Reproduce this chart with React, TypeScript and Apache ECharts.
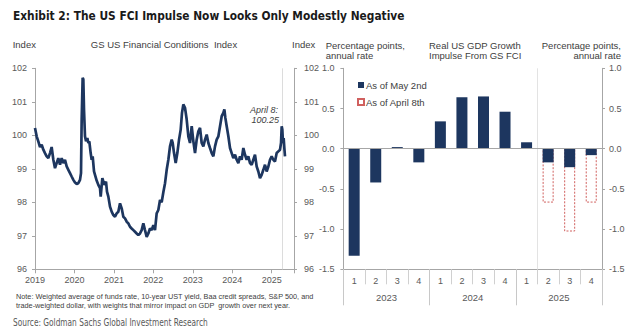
import React, { useEffect, useRef } from "react";
import * as echarts from "echarts";

// GS US Financial Conditions Index (decimal year, index level)
const fciDates: number[] = [
  2019.0, 2019.042, 2019.084, 2019.127, 2019.169, 2019.211, 2019.253, 2019.296, 2019.338, 2019.38,
  2019.422, 2019.465, 2019.507, 2019.549, 2019.591, 2019.634, 2019.676, 2019.718, 2019.76, 2019.803,
  2019.845, 2019.887, 2019.929, 2019.972, 2020.014, 2020.056, 2020.098, 2020.141, 2020.166, 2020.183,
  2020.208, 2020.225, 2020.242, 2020.267, 2020.293, 2020.327, 2020.352, 2020.377, 2020.411, 2020.436,
  2020.462, 2020.496, 2020.521, 2020.563, 2020.605, 2020.648, 2020.665, 2020.707, 2020.758, 2020.8,
  2020.825, 2020.859, 2020.901, 2020.943, 2020.986, 2021.028, 2021.07, 2021.112, 2021.155, 2021.197,
  2021.239, 2021.281, 2021.324, 2021.366, 2021.408, 2021.45, 2021.493, 2021.535, 2021.577, 2021.619,
  2021.662, 2021.704, 2021.746, 2021.788, 2021.831, 2021.873, 2021.915, 2021.957, 2022.0, 2022.042,
  2022.084, 2022.126, 2022.169, 2022.211, 2022.253, 2022.296, 2022.338, 2022.38, 2022.422, 2022.465,
  2022.49, 2022.524, 2022.566, 2022.608, 2022.651, 2022.693, 2022.726, 2022.76, 2022.803, 2022.845,
  2022.887, 2022.929, 2022.972, 2023.014, 2023.056, 2023.098, 2023.141, 2023.183, 2023.225, 2023.267,
  2023.31, 2023.352, 2023.394, 2023.436, 2023.479, 2023.521, 2023.563, 2023.605, 2023.648, 2023.69,
  2023.732, 2023.774, 2023.8, 2023.825, 2023.859, 2023.901, 2023.943, 2023.985, 2024.027, 2024.07,
  2024.112, 2024.154, 2024.196, 2024.238, 2024.281, 2024.323, 2024.365, 2024.407, 2024.45, 2024.492,
  2024.534, 2024.576, 2024.619, 2024.661, 2024.703, 2024.745, 2024.788, 2024.83, 2024.872, 2024.915,
  2024.957, 2024.999, 2025.041, 2025.083, 2025.126, 2025.168, 2025.21, 2025.236, 2025.253, 2025.269,
  2025.286, 2025.303, 2025.32, 2025.337,
];
const fciValues: number[] = [
  100.22, 99.97, 99.82, 99.65, 99.72, 99.57, 99.47, 99.37, 99.32, 99.47,
  99.65, 99.27, 99.02, 99.17, 99.32, 99.12, 99.32, 99.17, 99.27, 99.07,
  98.97, 98.87, 98.77, 98.67, 98.59, 98.55, 98.57, 98.67, 98.87, 100.47,
  101.72, 101.67, 100.77, 99.97, 99.82, 99.92, 99.77, 99.82, 99.47, 99.27,
  99.37, 98.92, 98.82, 98.65, 98.52, 98.42, 98.17, 98.72, 98.52, 98.62,
  98.32, 98.17, 97.87, 97.72, 97.62, 97.57, 97.67, 97.72, 97.97, 97.82,
  97.57, 97.52, 97.42, 97.37, 97.27, 97.22, 97.17, 97.12, 97.07, 97.02,
  97.07, 97.17, 97.37, 97.17, 96.97, 97.07, 97.22, 97.17, 97.32, 97.17,
  97.67, 97.77, 98.07, 98.0, 98.3, 98.57, 98.97, 99.27, 99.67, 99.87,
  99.77, 99.47, 99.17, 99.47, 99.87, 100.17, 100.67, 100.92, 100.82, 100.47,
  99.97, 99.77, 100.27, 99.82, 99.47, 99.87, 100.12, 100.22, 99.77, 99.67,
  99.87, 100.02, 99.77, 99.62, 99.47, 99.37, 99.67, 99.87, 99.97, 100.27,
  100.57, 100.67, 100.77, 100.52, 100.27, 99.97, 99.62, 99.47, 99.32, 99.42,
  99.27, 99.17, 99.37, 99.27, 99.62, 99.42, 99.27, 99.37, 99.17, 99.12,
  99.27, 99.42, 99.07, 98.92, 98.72, 98.82, 98.97, 99.12, 98.92, 99.07,
  99.27, 99.37, 99.27, 99.22, 99.47, 99.52, 99.57, 99.77, 100.27, 100.17,
  99.77, 99.92, 99.62, 99.37,
];
const fciYearTicks: number[] = [2019, 2020, 2021, 2022, 2023, 2024, 2025];
const fciAxisEnd = 2025.565;
const april8Date = 2025.266;

// GDP growth impulse from GS FCI (pp, annual rate)
const quarterLabels: string[] = ["1", "2", "3", "4", "1", "2", "3", "4", "1", "2", "3", "4"];
const yearLabels: string[] = ["2023", "2024", "2025"];
const asOfMay2nd: number[] = [-1.33, -0.42, 0.02, -0.17, 0.34, 0.64, 0.65, 0.46, 0.08, -0.17, -0.23, -0.08];
const asOfApril8th: (number | null)[] = [null, null, null, null, null, null, null, null, null, -0.67, -1.03, -0.67];
const forecastStartIndex = 9;

const NAVY = "#1d365f";
const RED = "#d0605e";
const AXIS = "#a6a6a6";
const LABEL = "#595959";
const FONT = "'Liberation Sans', Arial, sans-serif";
const NARROW = "'Liberation Sans Narrow', 'DejaVu Sans Condensed', 'Liberation Sans', sans-serif";

export default function App() {
  const ref = useRef<HTMLDivElement>(null);

  useEffect(() => {
    if (!ref.current) return;
    const chart = echarts.init(ref.current, undefined, { renderer: "svg" });

    const lineData = fciDates.map((d, i) => [d, fciValues[i]]);
    const axisLabelStyle = { color: LABEL, fontSize: 9, fontFamily: FONT };
    const text = (x: number, y: number, t: string, extra: any = {}, transform: any = {}) => ({
      type: "text",
      x,
      y,
      ...transform,
      style: {
        text: t,
        fill: "#404040",
        fontSize: 9.5,
        fontFamily: FONT,
        verticalAlign: "middle",
        ...extra,
      },
    });

    chart.setOption({
      animation: false,
      backgroundColor: "#ffffff",
      grid: [
        { left: 35, right: 345, top: 68.3, bottom: 66.7 },
        { left: 343.4, right: 37, top: 68.3, bottom: 66.7 },
      ],
      xAxis: [
        {
          type: "value",
          gridIndex: 0,
          min: 2019,
          max: fciAxisEnd,
          interval: 1,
          splitLine: { show: false },
          axisLine: { show: true, lineStyle: { color: AXIS } },
          axisTick: { show: true, length: 4, lineStyle: { color: AXIS } },
          axisLabel: {
            ...axisLabelStyle,
            margin: 6,
            formatter: (v: number) => (fciYearTicks.includes(v) ? String(v) : ""),
          },
        },
        {
          type: "category",
          gridIndex: 1,
          data: quarterLabels,
          position: "bottom",
          axisLine: { show: true, onZero: false, lineStyle: { color: AXIS } },
          axisTick: { show: true, length: 15, alignWithLabel: false, lineStyle: { color: "#d0d0d0" } },
          axisLabel: { ...axisLabelStyle, margin: 7 },
          splitLine: { show: false },
        },
        {
          type: "category",
          gridIndex: 1,
          data: yearLabels,
          position: "bottom",
          axisLine: { show: false, onZero: false },
          axisTick: { show: true, length: 36, alignWithLabel: false, lineStyle: { color: "#c8c8c8" } },
          axisLabel: { ...axisLabelStyle, fontSize: 9.5, margin: 23 },
          splitLine: { show: false },
        },
        {
          type: "value",
          gridIndex: 1,
          min: 0,
          max: quarterLabels.length,
          show: false,
        },
      ],
      yAxis: [
        {
          type: "value",
          gridIndex: 0,
          min: 96,
          max: 102,
          interval: 1,
          position: "left",
          splitLine: { show: false },
          axisLine: { show: true, lineStyle: { color: AXIS } },
          axisTick: { show: true, length: 3, lineStyle: { color: AXIS } },
          axisLabel: { ...axisLabelStyle, margin: 8 },
        },
        {
          type: "value",
          gridIndex: 0,
          min: 96,
          max: 102,
          interval: 1,
          position: "right",
          splitLine: { show: false },
          axisLine: { show: true, lineStyle: { color: AXIS } },
          axisTick: { show: true, length: 3, lineStyle: { color: AXIS } },
          axisLabel: { ...axisLabelStyle, margin: 10 },
        },
        {
          type: "value",
          gridIndex: 1,
          min: -1.5,
          max: 1.0,
          interval: 0.5,
          position: "left",
          splitLine: { show: false },
          axisLine: { show: true, onZero: false, lineStyle: { color: AXIS } },
          axisTick: { show: true, length: 3, lineStyle: { color: AXIS } },
          axisLabel: { ...axisLabelStyle, margin: 9, formatter: (v: number) => v.toFixed(1) },
        },
        {
          type: "value",
          gridIndex: 1,
          min: -1.5,
          max: 1.0,
          interval: 0.5,
          position: "right",
          splitLine: { show: false },
          axisLine: { show: true, onZero: false, lineStyle: { color: AXIS } },
          axisTick: { show: true, length: 3, lineStyle: { color: AXIS } },
          axisLabel: { ...axisLabelStyle, margin: 7, formatter: (v: number) => v.toFixed(1) },
        },
      ],
      legend: {
        orient: "vertical",
        left: 352,
        top: 75,
        itemWidth: 6,
        itemHeight: 6,
        itemGap: 7,
        icon: "rect",
        textStyle: { color: "#404040", fontSize: 9.5, fontFamily: FONT, padding: [0, 0, 0, -3] },
        data: ["As of May 2nd", "As of April 8th"],
      },
      series: [
        {
          name: "GS FCI",
          type: "line",
          xAxisIndex: 0,
          yAxisIndex: 0,
          data: lineData,
          showSymbol: false,
          symbol: "none",
          lineStyle: { color: NAVY, width: 2.7 },
          z: 3,
          markLine: {
            silent: true,
            symbol: "none",
            label: { show: false },
            lineStyle: { color: "#dcdcdc", type: "solid", width: 1 },
            data: [{ xAxis: april8Date }],
            z: 1,
          },
        },
        {
          name: "As of April 8th",
          type: "bar",
          xAxisIndex: 1,
          yAxisIndex: 2,
          data: asOfApril8th,
          barWidth: 11,
          barGap: "-100%",
          itemStyle: { color: "#ffffff", borderColor: RED, borderWidth: 1, borderType: [2, 1.5] },
          z: 2,
        },
        {
          name: "As of May 2nd",
          type: "bar",
          xAxisIndex: 1,
          yAxisIndex: 2,
          data: asOfMay2nd,
          barWidth: 11,
          barGap: "-100%",
          itemStyle: { color: NAVY },
          z: 3,
        },
        {
          name: "guides",
          type: "line",
          xAxisIndex: 3,
          yAxisIndex: 2,
          data: [[forecastStartIndex, 0]],
          symbol: "none",
          lineStyle: { opacity: 0 },
          z: 4,
          markLine: {
            silent: true,
            symbol: "none",
            label: { show: false },
            data: [
              { xAxis: forecastStartIndex, lineStyle: { color: "#e3e3e3", width: 1, type: "solid" } },
              { yAxis: 0, lineStyle: { color: AXIS, width: 1, type: "solid" } },
            ],
          },
        },
      ],
      graphic: [
        text(
          13,
          16,
          "Exhibit 2: The US FCI Impulse Now Looks Only Modestly Negative",
          { fontFamily: NARROW, fontWeight: "bold", fontSize: 12, fill: "#1a1a1a" },
          { scaleX: 0.985 }
        ),
        text(12.7, 44.5, "Index"),
        text(164, 44.5, "GS US Financial Conditions  Index", { textAlign: "center" }),
        text(292, 44.5, "Index"),
        text(325.7, 45.5, "Percentage points,"),
        text(325.7, 55.5, "annual rate"),
        text(429, 45.5, "Real US GDP Growth"),
        text(429, 55.5, "Impulse From GS FCI"),
        text(621, 45.5, "Percentage points,", { textAlign: "right" }),
        text(621, 55.5, "annual rate", { textAlign: "right" }),
        text(278, 110, "April 8:", { textAlign: "right", fontStyle: "italic", fontSize: 9 }),
        text(279, 119.5, "100.25", { textAlign: "right", fontStyle: "italic", fontSize: 9 }),
        text(16, 296.5, "Note: Weighted average of funds rate, 10-year UST yield, Baa credit spreads, S&P 500, and", {
          fontSize: 7.3,
          fill: "#404040",
        }),
        text(16, 305.5, "trade-weighted dollar, with weights that mirror impact on GDP  growth over next year.", {
          fontSize: 7.3,
          fill: "#404040",
        }),
        text(
          13,
          323,
          "Source: Goldman Sachs Global Investment Research",
          { fontFamily: NARROW, fontSize: 9.6, fill: "#595959" },
          { scaleX: 0.86 }
        ),
      ],
    });

    return () => chart.dispose();
  }, []);

  return (
    <div
      ref={ref}
      style={{ position: "fixed", left: 0, top: 0, width: 639, height: 336, background: "#fff" }}
    />
  );
}
